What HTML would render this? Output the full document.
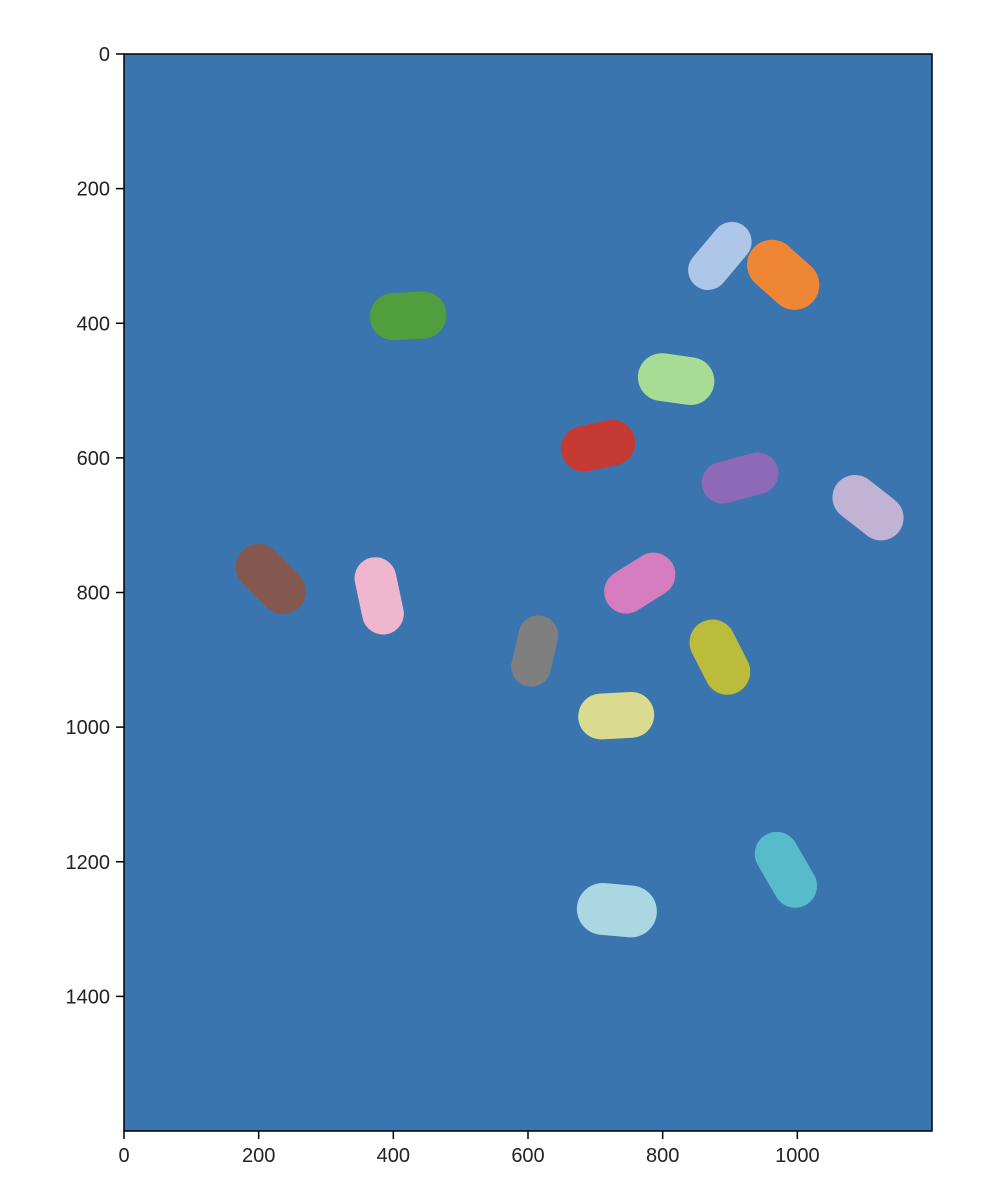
<!DOCTYPE html>
<html><head><meta charset="utf-8"><style>
html,body{margin:0;padding:0;background:#fff;}
svg{display:block;font-family:"Liberation Sans","DejaVu Sans",sans-serif;}
</style></head><body>
<svg id="chart" width="1004" height="1204" viewBox="0 0 1004 1204" xmlns="http://www.w3.org/2000/svg">
<rect x="0" y="0" width="1004" height="1204" fill="#ffffff"/>
<g id="plot"></g>
</svg>
<script>
const xTicks=[0,200,400,600,800,1000];
const yTicks=[0,200,400,600,800,1000,1200,1400];
const blobX=[885,979,422,820,704,915,1105,218,379,766,610,885,731,983,732];
const blobY=[300,328,389,483,582,630,674,780,805,786,887,896,983,1212,1272];
const blobLen=[114,119,114,114,111,116,116,119,116,113,107,117,113,120,119];
const blobWid=[59,74,70,71,68,62,67,68,62,65,59,68,68,65,77];
const blobAngle=[-50,42,-3,8,-12,-15,38,45,78,-32,-77,63,-3,60,5];
const blobColor=["#aec7e8","#ef8636","#519e3e","#a6dc93","#c53a32","#8d69b8","#c0b3d3","#84584e","#f0b6cd","#d57dbe","#7f7f7f","#bcbc3c","#dbdb8f","#58bbcc","#abd7e3"];
const X0=124,X1=932,Y0=54,Y1=1131,XMAX=1200,YMAX=1600;
const sx=v=>X0+v*(X1-X0)/XMAX;
const sy=v=>Y0+v*(Y1-Y0)/YMAX;
const k=(X1-X0)/XMAX;
const NS="http://www.w3.org/2000/svg";
const g=document.getElementById('plot');
function mk(t,a){const e=document.createElementNS(NS,t);for(const n in a)e.setAttribute(n,a[n]);g.appendChild(e);return e;}
const bg=mk('rect',{x:X0,y:Y0,width:X1-X0,height:Y1-Y0,fill:'#3b75af'});


for(let i=0;i<blobX.length;i++){
  const cx=sx(blobX[i]),cy=sy(blobY[i]),L=blobLen[i]*k,W=blobWid[i]*k;
  const r=mk('rect',{x:cx-L/2,y:cy-W/2,width:L,height:W,rx:W/2,ry:W/2,fill:blobColor[i],transform:`rotate(${blobAngle[i]} ${cx} ${cy})`});
  
  
}
const fr=mk('rect',{x:X0,y:Y0,width:X1-X0,height:Y1-Y0,fill:'none',stroke:'#000','stroke-width':1.5});


xTicks.forEach(v=>{
  const x=sx(v);
  const t=mk('line',{x1:x,y1:Y1,x2:x,y2:Y1+8,stroke:'#000','stroke-width':1.5});
  
  
  const l=mk('text',{x:x,y:Y1+31,'text-anchor':'middle','font-size':20,fill:'#222'});
  l.textContent=v;
  
  
});
yTicks.forEach(v=>{
  const y=sy(v);
  const t=mk('line',{x1:X0-8,y1:y,x2:X0,y2:y,stroke:'#000','stroke-width':1.5});
  
  
  const l=mk('text',{x:X0-14,y:y+7,'text-anchor':'end','font-size':20,fill:'#222'});
  l.textContent=v;
  
  
});
</script>
</body></html>
